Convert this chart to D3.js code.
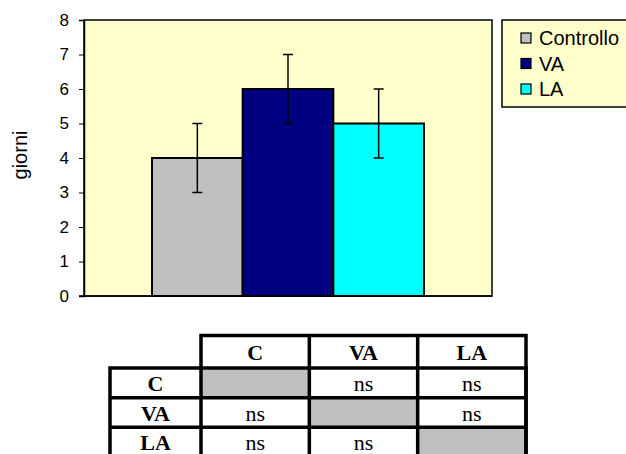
<!DOCTYPE html>
<html><head><meta charset="utf-8">
<script src="https://cdn.jsdelivr.net/npm/d3@7"></script>
<style>body{margin:0;background:#fff}svg{display:block}</style>
</head><body>
<svg id="c" width="626" height="454"></svg>
<script>
const categories = ["Controllo", "VA", "LA"];
const values = [4, 6, 5];
const errors = [1, 1, 1];
const colors = ["#c0c0c0", "#000080", "#00ffff"];
const yTicks = [0, 1, 2, 3, 4, 5, 6, 7, 8];
const yLabel = "giorni";
const tableCols = ["C", "VA", "LA"];
const tableRows = ["C", "VA", "LA"];
const tableCells = [["", "ns", "ns"], ["ns", "", "ns"], ["ns", "ns", ""]];

const svg = d3.select("#c");
const L = 84, R = 492, T = 20, B = 296;

const y = d3.scaleLinear().domain([0, 8]).range([B, T]);
const x0 = d3.scaleBand().domain(["g"]).range([L, R]).paddingOuter(0.25).paddingInner(0);
const x1 = d3.scaleBand().domain(categories).range([0, x0.bandwidth()]);

svg.append("rect").attr("x", L).attr("y", T).attr("width", R - L).attr("height", B - T)
  .attr("fill", "#ffffcc").attr("stroke", "#000").attr("stroke-width", 1.5);

const g = svg.append("g").attr("transform", `translate(${x0("g")},0)`);
g.selectAll("rect.bar").data(categories).join("rect").attr("class", "bar")
  .attr("x", d => x1(d)).attr("width", x1.bandwidth())
  .attr("y", (d, i) => y(values[i])).attr("height", (d, i) => B - y(values[i]))
  .attr("fill", (d, i) => colors[i]).attr("stroke", "#000").attr("stroke-width", 2);

const eb = g.selectAll("g.eb").data(categories).join("g").attr("class", "eb")
  .attr("stroke", "#000").attr("stroke-width", 1.5);
eb.append("line").attr("x1", d => x1(d) + x1.bandwidth() / 2).attr("x2", d => x1(d) + x1.bandwidth() / 2)
  .attr("y1", (d, i) => y(values[i] + errors[i])).attr("y2", (d, i) => y(values[i] - errors[i]));
eb.append("line").attr("x1", d => x1(d) + x1.bandwidth() / 2 - 5).attr("x2", d => x1(d) + x1.bandwidth() / 2 + 5)
  .attr("y1", (d, i) => y(values[i] + errors[i])).attr("y2", (d, i) => y(values[i] + errors[i]));
eb.append("line").attr("x1", d => x1(d) + x1.bandwidth() / 2 - 5).attr("x2", d => x1(d) + x1.bandwidth() / 2 + 5)
  .attr("y1", (d, i) => y(values[i] - errors[i])).attr("y2", (d, i) => y(values[i] - errors[i]));

const ax = svg.append("g").attr("transform", `translate(${L},0)`)
  .call(d3.axisLeft(y).tickValues(yTicks).tickSize(5).tickPadding(10));
ax.select(".domain").attr("stroke", "#000").attr("stroke-width", 1.5);
ax.selectAll(".tick line").attr("stroke", "#000");
ax.selectAll("text").attr("font-family", "Arial, 'Liberation Sans', sans-serif").attr("font-size", 17).attr("fill", "#000");
svg.append("line").attr("x1", L - 5).attr("x2", R).attr("y1", B).attr("y2", B).attr("stroke", "#000").attr("stroke-width", 1.5);

svg.append("text").attr("transform", "translate(27,155) rotate(-90)").attr("text-anchor", "middle")
  .attr("font-family", "Arial, 'Liberation Sans', sans-serif").attr("font-size", 20).text(yLabel);

// legend
svg.append("rect").attr("x", 502).attr("y", 20).attr("width", 140).attr("height", 87)
  .attr("fill", "#ffffcc").attr("stroke", "#000").attr("stroke-width", 1.5);
const lg = svg.selectAll("g.lg").data(categories).join("g").attr("class", "lg")
  .attr("transform", (d, i) => `translate(521,${38 + i * 25.5})`);
lg.append("rect").attr("x", 0).attr("y", -5).attr("width", 10).attr("height", 10)
  .attr("fill", (d, i) => colors[i]).attr("stroke", "#000").attr("stroke-width", 1.2);
lg.append("text").attr("x", 18).attr("y", 7).attr("font-family", "Arial, 'Liberation Sans', sans-serif")
  .attr("font-size", 20).text(d => d);

// table
const colX = d3.scaleBand().domain(tableCols).range([201, 526]);
const rowY = d3.scaleBand().domain(tableRows).range([368, 457]);
const labX = 110, hdrTop = 335.5;
const tf = "'Times New Roman', 'Liberation Serif', serif";
tableRows.forEach((r, ri) => tableCols.forEach((c, ci) => {
  if (tableCells[ri][ci] === "") svg.append("rect").attr("x", colX(c)).attr("y", rowY(r))
    .attr("width", colX.bandwidth()).attr("height", rowY.bandwidth()).attr("fill", "#c0c0c0");
}));
const tl = svg.append("g").attr("stroke", "#000").attr("stroke-width", 3.5).attr("fill", "none");
tableCols.forEach((c, i) => { if (i > 0) tl.append("line").attr("x1", colX(c)).attr("x2", colX(c)).attr("y1", hdrTop).attr("y2", 460); });
tableRows.forEach((r, i) => { if (i > 0) tl.append("line").attr("x1", labX).attr("x2", 526).attr("y1", rowY(r)).attr("y2", rowY(r)); });
tl.append("rect").attr("x", 201).attr("y", hdrTop).attr("width", 526 - 201).attr("height", 460 - hdrTop);
tl.append("rect").attr("x", labX).attr("y", 368).attr("width", 526 - labX).attr("height", 92);
svg.selectAll("text.th").data(tableCols).join("text").attr("class", "th")
  .attr("x", d => colX(d) + colX.bandwidth() / 2).attr("y", 360).attr("text-anchor", "middle")
  .attr("font-family", tf).attr("font-weight", "bold").attr("font-size", 22).text(d => d);
svg.selectAll("text.rh").data(tableRows).join("text").attr("class", "rh")
  .attr("x", (labX + 201) / 2).attr("y", d => rowY(d) + 23).attr("text-anchor", "middle")
  .attr("font-family", tf).attr("font-weight", "bold").attr("font-size", 22).text(d => d);
tableRows.forEach((r, ri) => tableCols.forEach((c, ci) => {
  if (tableCells[ri][ci] !== "") svg.append("text").attr("x", colX(c) + colX.bandwidth() / 2)
    .attr("y", rowY(r) + 23).attr("text-anchor", "middle").attr("font-family", tf)
    .attr("font-size", 22).text(tableCells[ri][ci]);
}));
</script>
</body></html>
